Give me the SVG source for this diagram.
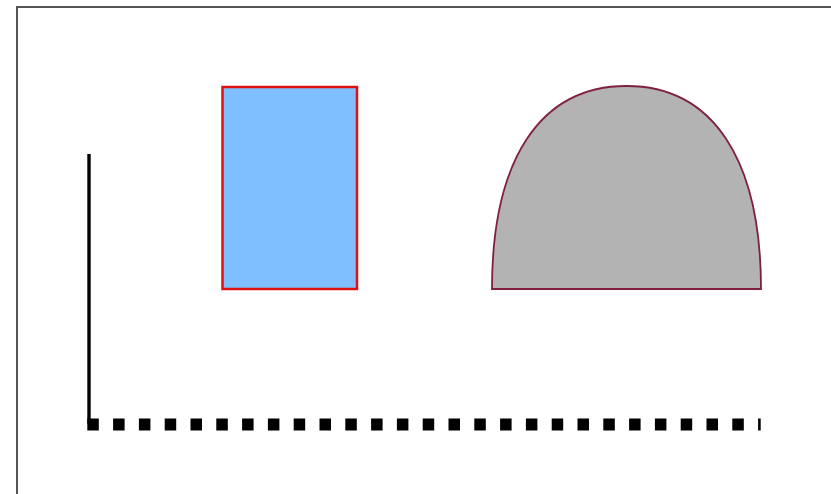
<svg xmlns="http://www.w3.org/2000/svg" width="831" height="494" viewBox="0 0 831 494">
<style>
.frame{fill:none;stroke:#555;stroke-width:2}
.axis{stroke:#000;fill:none}
</style>
<rect width="831" height="494" fill="#fff"/>
<rect class="frame" x="17" y="7" width="830" height="500"/>
<g id="rect-node"><rect x="222.5" y="87" width="134.5" height="202" fill="#80bfff" stroke="#e01010" stroke-width="2.5"/></g>
<g id="dome-node"><path d="M492,289 C492,159.1 540.4,86 626.5,86 C712.6,86 761,159.1 761,289 Z" fill="#b3b3b3" stroke="#802040" stroke-width="1.8"/></g>
<g id="connectors">
<line class="axis" x1="89" y1="154" x2="89" y2="424" stroke-width="3.4"/>
<line class="axis" x1="87.3" y1="424.5" x2="760.7" y2="424.5" stroke-width="12" stroke-dasharray="11.5 14.3"/>
</g>
</svg>
